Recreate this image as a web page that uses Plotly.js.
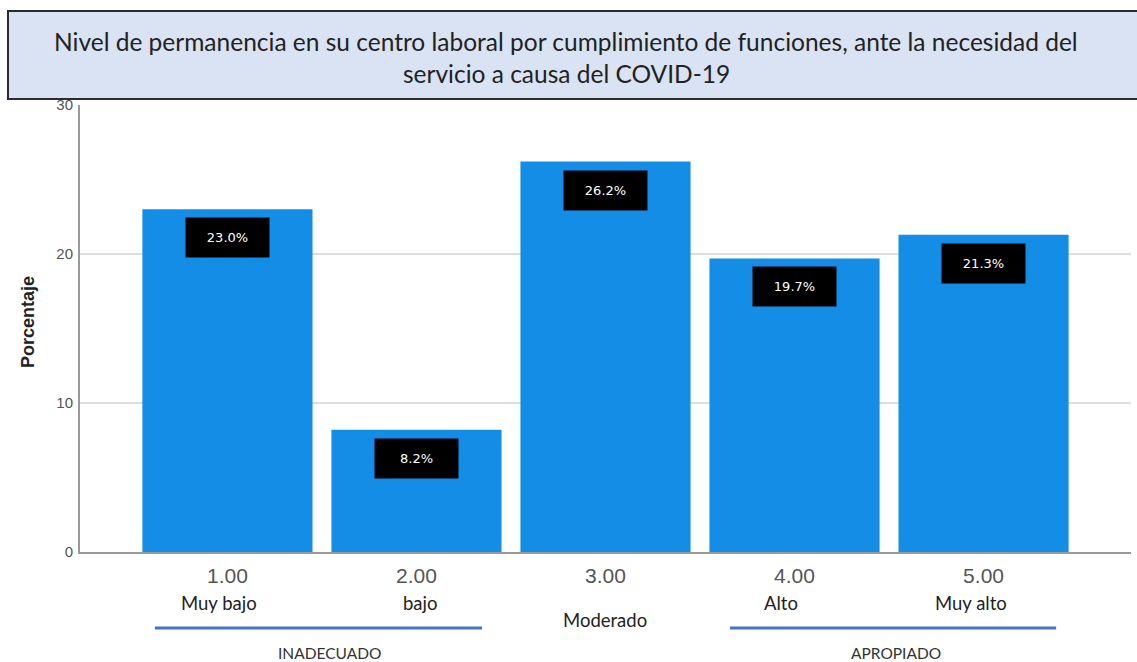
<!DOCTYPE html>
<html>
<head>
<meta charset="utf-8">
<script src="https://cdn.plot.ly/plotly-3.0.1.min.js"></script>
<style>html,body{margin:0;padding:0;background:#fff;}#chart{width:1137px;height:662px;}</style>
</head>
<body>
<div id="chart"></div>
<script>
const categories = ["1.00", "2.00", "3.00", "4.00", "5.00"];
const levelLabels = ["Muy bajo", "bajo", "Moderado", "Alto", "Muy alto"];
const percentages = [23.0, 8.2, 26.2, 19.7, 21.3];
const groupLabels = ["INADECUADO", "APROPIADO"];
const titleLines = ["Nivel de permanencia en su centro laboral por cumplimiento de funciones, ante la necesidad del", "servicio a causa del COVID-19"];
const yTitle = "Porcentaje";

const idx = categories.map((c, i) => i);
const levelShift = [-8, 4, -1, -14, -13];

const annotations = [];
// data labels
percentages.forEach((v, i) => {
  annotations.push({
    x: i, y: v, xref: 'x', yref: 'y',
    text: v.toFixed(1) + '%',
    showarrow: false, yanchor: 'top', yshift: -8,
    bgcolor: '#000000', width: 81, height: 37, borderpad: 1,
    font: {family: 'DejaVu Sans', size: 13, color: '#ffffff'}
  });
});
// level labels
levelLabels.forEach((t, i) => {
  annotations.push({
    x: i, y: i === 2 ? -0.152 : -0.114, xref: 'x', yref: 'paper', xshift: levelShift[i],
    text: t, showarrow: false, yanchor: 'middle', xanchor: 'center',
    font: {family: 'Lato', size: 18.5, color: '#222222'}
  });
});
// group labels
const groupCenters = [0.542, 3.537];
groupLabels.forEach((t, k) => {
  annotations.push({
    x: groupCenters[k], y: -(653 - 552) / 447, xref: 'x', yref: 'paper',
    text: t, showarrow: false, yanchor: 'middle', xanchor: 'center',
    font: {family: 'Lato', size: 15.5, color: '#333333'}
  });
});
// title lines
annotations.push({
  x: (566 - 80) / 1051, y: (552 - 41) / 447, xref: 'paper', yref: 'paper', xanchor: 'center', yanchor: 'middle',
  text: titleLines[0], showarrow: false, font: {family: 'Lato', size: 24.5, color: '#222222'}
});
annotations.push({
  x: (566 - 80) / 1051, y: (552 - 73) / 447, xref: 'paper', yref: 'paper', xanchor: 'center', yanchor: 'middle',
  text: titleLines[1], showarrow: false, font: {family: 'Lato', size: 24.5, color: '#222222'}
});
// y title
annotations.push({
  x: (28 - 80) / 1051, y: (552 - 322) / 447, xref: 'paper', yref: 'paper', xanchor: 'center', yanchor: 'middle',
  text: yTitle, textangle: -90, showarrow: false,
  font: {family: 'Liberation Sans', size: 18, color: '#222222', weight: 'bold'}
});

const shapes = [
  {type: 'rect', xref: 'paper', yref: 'paper', x0: (8 - 80) / 1051, x1: 1.02, y0: (552 - 99) / 447, y1: (552 - 11) / 447,
   fillcolor: '#dae3f3', line: {color: '#2b2b2b', width: 2}, layer: 'below'},
  {type: 'line', xref: 'x', yref: 'paper', x0: -0.384, x1: 1.347, y0: -0.170, y1: -0.170, line: {color: '#4472c4', width: 3}},
  {type: 'line', xref: 'x', yref: 'paper', x0: 2.659, x1: 4.384, y0: -0.170, y1: -0.170, line: {color: '#4472c4', width: 3}}
];

const trace = {
  type: 'bar', x: idx, y: percentages,
  marker: {color: '#148de6', line: {width: 0}},
  hoverinfo: 'skip'
};

const layout = {
  width: 1137, height: 662,
  margin: {l: 80, r: 6, t: 105, b: 110},
  paper_bgcolor: '#ffffff', plot_bgcolor: '#ffffff',
  bargap: 0.1,
  showlegend: false,
  xaxis: {
    range: [-0.78, 4.78], tickmode: 'array', tickvals: idx, ticktext: categories,
    showgrid: false, zeroline: false, showline: true, linecolor: '#999999', linewidth: 2,
    ticks: '', ticklabelstandoff: 4,
    tickfont: {family: 'Liberation Sans', size: 21, color: '#555555'}
  },
  yaxis: {
    range: [0, 30], tickvals: [0, 10, 20, 30], ticktext: ['0', '10', '20', '30'],
    showgrid: true, gridcolor: '#dddddd', gridwidth: 2, zeroline: false,
    showline: true, linecolor: '#999999', linewidth: 2,
    ticks: '', ticklabelstandoff: 2,
    tickfont: {family: 'Liberation Sans', size: 15, color: '#555555'}
  },
  annotations: annotations,
  shapes: shapes
};

Plotly.newPlot('chart', [trace], layout, {displayModeBar: false, staticPlot: true});
</script>
</body>
</html>
